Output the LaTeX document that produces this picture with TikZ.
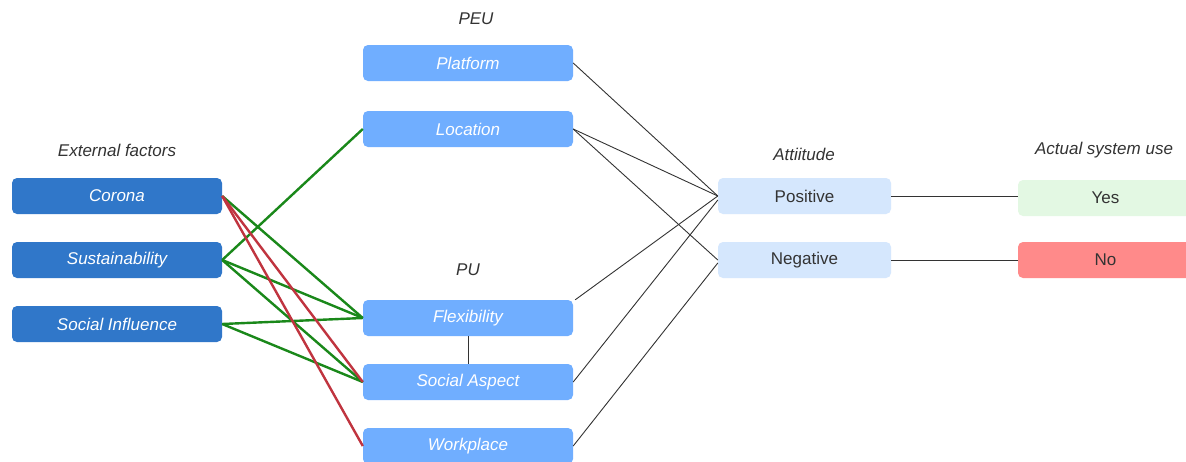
\documentclass[tikz,border=0pt]{standalone}
\usepackage{fontspec}
\setmainfont{Liberation Sans}
\definecolor{darkbox}{HTML}{3077C9}
\definecolor{midbox}{HTML}{70AEFF}
\definecolor{palebox}{HTML}{D5E7FD}
\definecolor{yesbox}{HTML}{E3F8E3}
\definecolor{nobox}{HTML}{FF8A8A}
\definecolor{txt}{HTML}{333333}
\definecolor{gline}{HTML}{1A881A}
\definecolor{rline}{HTML}{C0343F}
\tikzset{
  box/.style={rectangle, rounded corners=5pt, minimum height=36pt, inner sep=0pt, font=\fontsize{17}{20}\selectfont},
  extbox/.style={box, fill=darkbox, text=white, minimum width=210pt, font=\fontsize{17}{20}\selectfont\itshape},
  midnode/.style={box, fill=midbox, text=white, minimum width=210pt, font=\fontsize{17}{20}\selectfont\itshape},
  attbox/.style={box, fill=palebox, text=txt, minimum width=173pt},
  usebox/.style={box, text=txt, minimum width=175pt},
  header/.style={text=txt, font=\fontsize{17}{20}\selectfont\itshape, inner sep=0pt},
  gconn/.style={draw=gline, line width=2.4pt},
  rconn/.style={draw=rline, line width=2.4pt},
  kconn/.style={draw=txt, line width=0.9pt},
}
\begin{document}
\begin{tikzpicture}[x=1pt, y=-1pt]
\useasboundingbox[fill=white] (0,0) rectangle (1186,461);
% headers
\node[header] (hext) at (117,150) {External factors};
\node[header] (hpeu) at (476,19) {PEU};
\node[header] (hpu) at (468,270) {PU};
\node[header] (hatt) at (804,154) {Attiitude};
\node[header] (huse) at (1104,150) {Actual system use};
% external factors
\node[extbox] (cor) at (117,196) {Corona};
\node[extbox] (sus) at (117,260) {Sustainability};
\node[extbox] (soc) at (117,324) {Social Influence};
% PEU / PU
\node[midnode] (pla) at (468,63) {Platform};
\node[midnode] (loc) at (468,129) {Location};
\node[midnode] (fle) at (468,318) {Flexibility};
\node[midnode] (sas) at (468,382) {Social Aspect};
\node[midnode] (wor) at (468,446) {Workplace};
% attitude
\node[attbox] (pos) at (804.5,196) {Positive};
\node[attbox] (neg) at (804.5,260) {Negative};
% actual use
\node[usebox, fill=yesbox] (yes) at (1105.5,198) {Yes};
\node[usebox, fill=nobox] (no) at (1105.5,260) {No};
% green connectors
\draw[gconn] (sus.east) -- (loc.west);
\draw[gconn] (cor.east) -- (fle.west);
\draw[gconn] (sus.east) -- (fle.west);
\draw[gconn] (sus.east) -- (sas.west);
\draw[gconn] (soc.east) -- (fle.west);
\draw[gconn] (soc.east) -- (sas.west);
% red connectors
\draw[rconn] (cor.east) -- (sas.west);
\draw[rconn] (cor.east) -- (wor.west);
% black connectors
\draw[kconn] (pla.east) -- (pos.west);
\draw[kconn] (loc.east) -- (pos.west);
\draw[kconn] (loc.east) -- (neg.west);
\draw[kconn] ([xshift=2pt]fle.north east) -- (pos.west);
\draw[kconn] (sas.east) -- ([yshift=-4pt]pos.west);
\draw[kconn] (wor.east) -- ([yshift=-3pt]neg.west);
\draw[kconn] (fle.south) -- (sas.north);
\draw[kconn] (pos.east) -- (pos.east -| yes.west);
\draw[kconn] (neg.east) -- (no.west);
\end{tikzpicture}
\end{document}
